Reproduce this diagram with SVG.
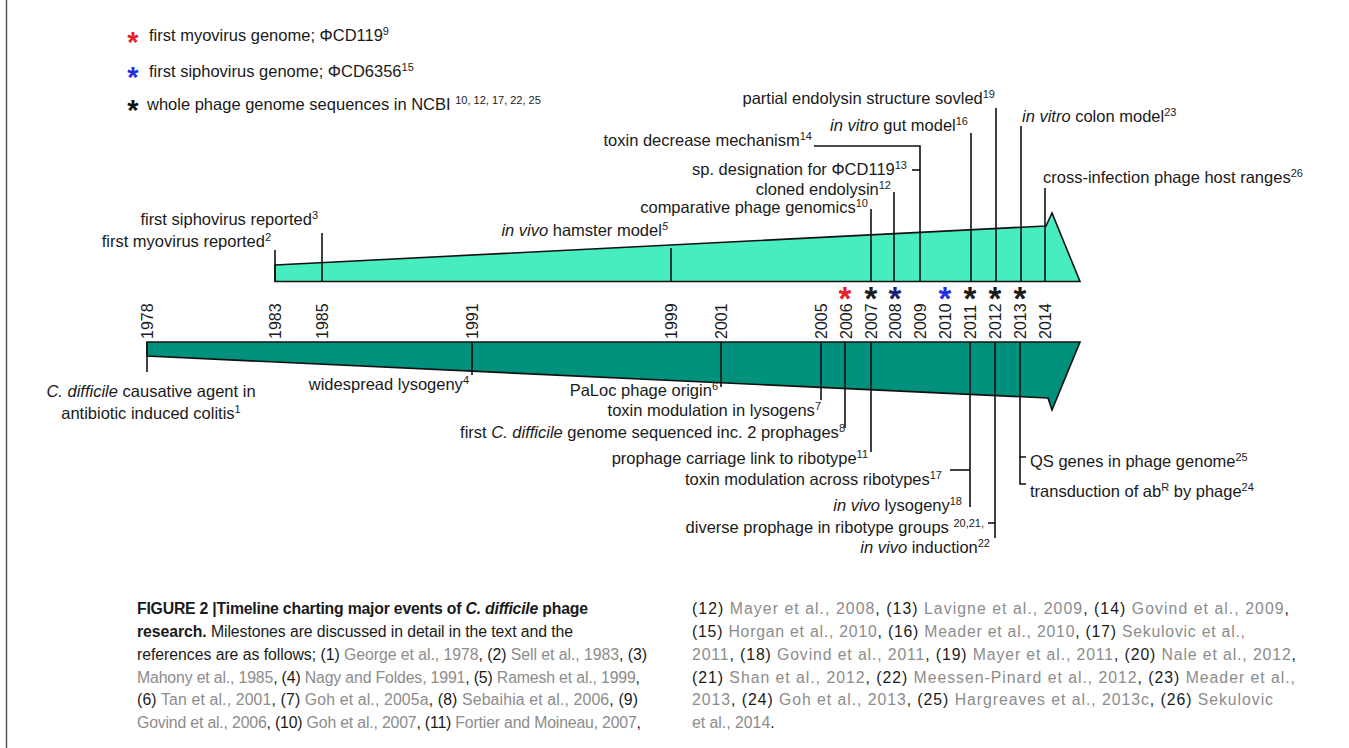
<svg xmlns="http://www.w3.org/2000/svg" width="1349" height="748" viewBox="0 0 1349 748">
<style>
text{font-family:"Liberation Sans",Arial,sans-serif;fill:#1a1a1a}
.lb{font-size:16.5px}
.yr{font-size:16px}
.sup{font-size:11px}
.it{font-style:italic}
.st{font-size:33px;font-weight:bold;text-anchor:middle}
.ls{font-size:29px;font-weight:bold;text-anchor:middle}
.cap{font-size:15.8px}
.g{fill:#8c8c8c}
.b{font-weight:bold}
.ln{stroke:#111;stroke-width:1.6;fill:none}
</style>
<rect width="1349" height="748" fill="#fff"/>
<line x1="6.5" y1="0" x2="6.5" y2="748" stroke="#555" stroke-width="1.5"/>

<g id="legend">
<text class="ls" x="133" y="52" style="fill:#e8202a">*</text>
<text class="lb" x="149" y="41">first myovirus genome; ΦCD119<tspan class="sup" dy="-6">9</tspan></text>
<text class="ls" x="133" y="87" style="fill:#2430e0">*</text>
<text class="lb" x="149" y="77">first siphovirus genome; ΦCD6356<tspan class="sup" dy="-6">15</tspan></text>
<text class="ls" x="133" y="120" style="fill:#111">*</text>
<text class="lb" x="147" y="110">whole phage genome sequences in NCBI <tspan class="sup" dy="-6">10, 12, 17, 22, 25</tspan></text>
</g>

<g id="upper-bar">
<polygon points="275,265 1046,226 1052,213 1080,281.5 275,281.5" fill="#47EDBF" stroke="#111" stroke-width="1.6" stroke-linejoin="miter"/>
</g>
<g id="lower-bar">
<polygon points="147,342 1080,342 1052,410 1048,398 147,356" fill="#00917D" stroke="#111" stroke-width="1.6"/>
</g>

<g id="connectors">
<line class="ln" x1="275" y1="250" x2="275" y2="281"/>
<line class="ln" x1="322" y1="233" x2="322" y2="281"/>
<line class="ln" x1="671" y1="248" x2="671" y2="281"/>
<line class="ln" x1="871" y1="209" x2="871" y2="281"/>
<line class="ln" x1="894" y1="192" x2="894" y2="281"/>
<polyline class="ln" points="814,146 920,146 920,281"/>
<line class="ln" x1="912" y1="170" x2="920" y2="170"/>
<line class="ln" x1="971" y1="133" x2="971" y2="281"/>
<line class="ln" x1="996" y1="108" x2="996" y2="281"/>
<line class="ln" x1="1021" y1="126" x2="1021" y2="281"/>
<line class="ln" x1="1045" y1="188" x2="1045" y2="281"/>
<line class="ln" x1="147" y1="342" x2="147" y2="372"/>
<line class="ln" x1="472" y1="342" x2="472" y2="375"/>
<line class="ln" x1="721" y1="342" x2="721" y2="387"/>
<line class="ln" x1="821" y1="342" x2="821" y2="400"/>
<line class="ln" x1="845" y1="342" x2="845" y2="428"/>
<line class="ln" x1="871" y1="342" x2="871" y2="452"/>
<line class="ln" x1="970" y1="342" x2="970" y2="507"/>
<line class="ln" x1="950" y1="470" x2="970" y2="470"/>
<line class="ln" x1="995" y1="342" x2="995" y2="538"/>
<line class="ln" x1="988" y1="523" x2="995" y2="523"/>
<polyline class="ln" points="1026,457 1020,457 1020,484 1026,484"/>
<line class="ln" x1="1020" y1="342" x2="1020" y2="457"/>
</g>

<g id="stars">
<text class="st" x="845" y="310" style="fill:#e8202a">*</text>
<text class="st" x="871" y="310">*</text>
<text class="st" x="895" y="310" style="fill:#1c1f6e">*</text>
<text class="st" x="945" y="310" style="fill:#2430e0">*</text>
<text class="st" x="970" y="310">*</text>
<text class="st" x="995" y="310">*</text>
<text class="st" x="1020" y="310">*</text>
</g>

<g id="years" class="yr">
<text class="yr" transform="translate(153,339) rotate(-90)">1978</text>
<text class="yr" transform="translate(281,339) rotate(-90)">1983</text>
<text class="yr" transform="translate(328,339) rotate(-90)">1985</text>
<text class="yr" transform="translate(478,339) rotate(-90)">1991</text>
<text class="yr" transform="translate(677,339) rotate(-90)">1999</text>
<text class="yr" transform="translate(727,339) rotate(-90)">2001</text>
<text class="yr" transform="translate(827,339) rotate(-90)">2005</text>
<text class="yr" transform="translate(852,339) rotate(-90)">2006</text>
<text class="yr" transform="translate(877,339) rotate(-90)">2007</text>
<text class="yr" transform="translate(901,339) rotate(-90)">2008</text>
<text class="yr" transform="translate(926,339) rotate(-90)">2009</text>
<text class="yr" transform="translate(951,339) rotate(-90)">2010</text>
<text class="yr" transform="translate(976,339) rotate(-90)">2011</text>
<text class="yr" transform="translate(1001,339) rotate(-90)">2012</text>
<text class="yr" transform="translate(1026,339) rotate(-90)">2013</text>
<text class="yr" transform="translate(1051,339) rotate(-90)">2014</text>
</g>

<g id="upper-labels" text-anchor="end">
<text class="lb" x="271" y="247">first myovirus reported<tspan class="sup" dy="-6">2</tspan></text>
<text class="lb" x="318" y="225">first siphovirus reported<tspan class="sup" dy="-6">3</tspan></text>
<text class="lb" x="668" y="236"><tspan class="it">in vivo</tspan> hamster model<tspan class="sup it" dy="-6">5</tspan></text>
<text class="lb" x="868" y="213">comparative phage genomics<tspan class="sup" dy="-6">10</tspan></text>
<text class="lb" x="891" y="195">cloned endolysin<tspan class="sup" dy="-6">12</tspan></text>
<text class="lb" x="907" y="175">sp. designation for ΦCD119<tspan class="sup" dy="-6">13</tspan></text>
<text class="lb" x="812" y="146">toxin decrease mechanism<tspan class="sup" dy="-6">14</tspan></text>
<text class="lb" x="968" y="131"><tspan class="it">in vitro</tspan> gut model<tspan class="sup" dy="-6">16</tspan></text>
<text class="lb" x="995" y="104">partial endolysin structure sovled<tspan class="sup" dy="-6">19</tspan></text>
<text class="lb" x="1022" y="122" text-anchor="start"><tspan class="it">in vitro</tspan> colon model<tspan class="sup" dy="-6">23</tspan></text>
<text class="lb" x="1043" y="183" text-anchor="start">cross-infection phage host ranges<tspan class="sup" dy="-6">26</tspan></text>
</g>

<g id="lower-labels" text-anchor="end">
<text class="lb" x="151" y="397" text-anchor="middle"><tspan class="it">C. difficile</tspan> causative agent in</text>
<text class="lb" x="151" y="419" text-anchor="middle">antibiotic induced colitis<tspan class="sup" dy="-6">1</tspan></text>
<text class="lb" x="469" y="390">widespread lysogeny<tspan class="sup" dy="-6">4</tspan></text>
<text class="lb" x="718" y="396">PaLoc phage origin<tspan class="sup" dy="-6">6</tspan></text>
<text class="lb" x="821" y="416">toxin modulation in lysogens<tspan class="sup" dy="-6">7</tspan></text>
<text class="lb" x="845" y="438">first <tspan class="it">C. difficile</tspan> genome sequenced inc. 2 prophages<tspan class="sup" dy="-6">8</tspan></text>
<text class="lb" x="868" y="464">prophage carriage link to ribotype<tspan class="sup" dy="-6">11</tspan></text>
<text class="lb" x="942" y="485">toxin modulation across ribotypes<tspan class="sup" dy="-6">17</tspan></text>
<text class="lb" x="962" y="511"><tspan class="it">in vivo</tspan> lysogeny<tspan class="sup" dy="-6">18</tspan></text>
<text class="lb" x="984" y="533">diverse prophage in ribotype groups <tspan class="sup" dy="-6">20,21,</tspan></text>
<text class="lb" x="990" y="553"><tspan class="it">in vivo</tspan> induction<tspan class="sup" dy="-6">22</tspan></text>
<text class="lb" x="1030" y="467" text-anchor="start">QS genes in phage genome<tspan class="sup" dy="-6">25</tspan></text>
<text class="lb" x="1030" y="497" text-anchor="start">transduction of ab<tspan class="sup" dy="-6">R</tspan><tspan dy="6"> by phage</tspan><tspan class="sup" dy="-6">24</tspan></text>
</g>

<g id="caption" class="cap">
<text class="cap b" x="137" y="614" textLength="451" lengthAdjust="spacing">FIGURE 2 |Timeline charting major events of <tspan class="it">C. difficile</tspan> phage</text>
<text class="cap" x="137" y="637" textLength="436" lengthAdjust="spacing"><tspan class="b">research.</tspan> Milestones are discussed in detail in the text and the</text>
<text class="cap" x="137" y="660" textLength="510" lengthAdjust="spacing">references are as follows; (1) <tspan class="g">George et al., 1978</tspan>, (2) <tspan class="g">Sell et al., 1983</tspan>, (3)</text>
<text class="cap" x="137" y="683" textLength="503" lengthAdjust="spacing"><tspan class="g">Mahony et al., 1985</tspan>, (4) <tspan class="g">Nagy and Foldes, 1991</tspan>, (5) <tspan class="g">Ramesh et al., 1999</tspan>,</text>
<text class="cap" x="137" y="705" textLength="501" lengthAdjust="spacing">(6) <tspan class="g">Tan et al., 2001</tspan>, (7) <tspan class="g">Goh et al., 2005a</tspan>, (8) <tspan class="g">Sebaihia et al., 2006</tspan>, (9)</text>
<text class="cap" x="137" y="728" textLength="504" lengthAdjust="spacing"><tspan class="g">Govind et al., 2006</tspan>, (10) <tspan class="g">Goh et al., 2007</tspan>, (11) <tspan class="g">Fortier and Moineau, 2007</tspan>,</text>

<text class="cap" x="692" y="614" textLength="597" lengthAdjust="spacing">(12) <tspan class="g">Mayer et al., 2008</tspan>, (13) <tspan class="g">Lavigne et al., 2009</tspan>, (14) <tspan class="g">Govind et al., 2009</tspan>,</text>
<text class="cap" x="692" y="637" textLength="553" lengthAdjust="spacing">(15) <tspan class="g">Horgan et al., 2010</tspan>, (16) <tspan class="g">Meader et al., 2010</tspan>, (17) <tspan class="g">Sekulovic et al.,</tspan></text>
<text class="cap" x="692" y="660" textLength="604" lengthAdjust="spacing"><tspan class="g">2011</tspan>, (18) <tspan class="g">Govind et al., 2011</tspan>, (19) <tspan class="g">Mayer et al., 2011</tspan>, (20) <tspan class="g">Nale et al., 2012</tspan>,</text>
<text class="cap" x="692" y="683" textLength="603" lengthAdjust="spacing">(21) <tspan class="g">Shan et al., 2012</tspan>, (22) <tspan class="g">Meessen-Pinard et al., 2012</tspan>, (23) <tspan class="g">Meader et al.,</tspan></text>
<text class="cap" x="692" y="705" textLength="581" lengthAdjust="spacing"><tspan class="g">2013</tspan>, (24) <tspan class="g">Goh et al., 2013</tspan>, (25) <tspan class="g">Hargreaves et al., 2013c</tspan>, (26) <tspan class="g">Sekulovic</tspan></text>
<text class="cap" x="692" y="728"><tspan class="g">et al., 2014</tspan>.</text>
</g>
</svg>
